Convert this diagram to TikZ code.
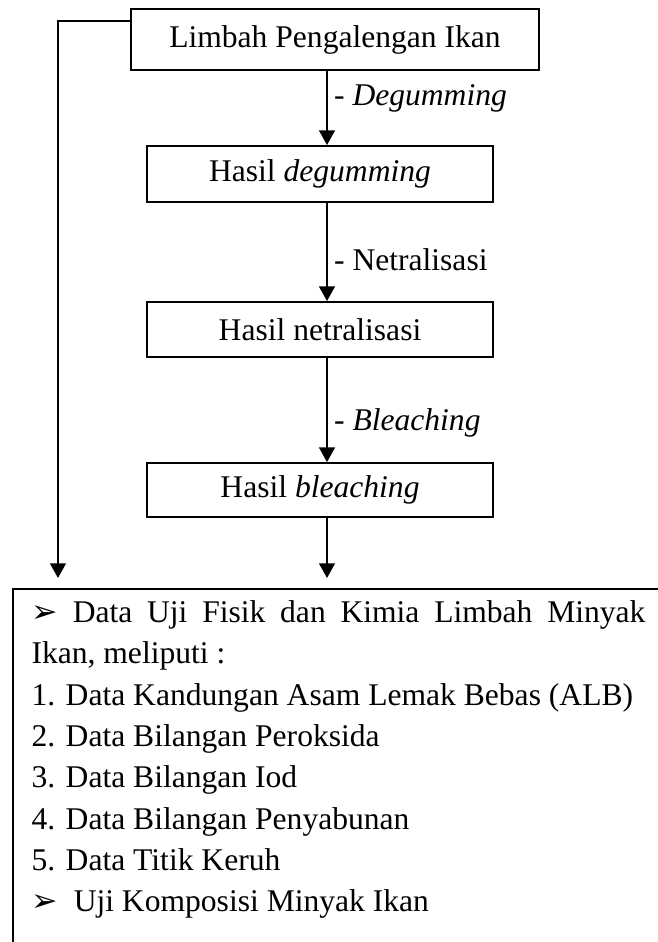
\documentclass[tikz,border=0pt]{standalone}
\usepackage{fontspec}
\setmainfont{Liberation Serif}
\newfontfamily\dingfont{DejaVu Sans}
\usetikzlibrary{arrows.meta,calc}

\tikzset{
  procbox/.style={draw, line width=0.7pt, inner sep=0pt, minimum width=131.5pt, font=\fontsize{12}{14}\selectfont},
  flow/.style={line width=0.8pt, -{Triangle[width=6pt,length=5.6pt]}},
  steplabel/.style={anchor=west, inner sep=0pt, xshift=2.3pt, font=\fontsize{12}{14}\selectfont}
}
\newcommand{\pointer}{{\dingfont\symbol{"27A2}}}

\begin{document}
\begin{tikzpicture}[x=0.38pt,y=0.38pt,yscale=-1,xscale=1]
      \useasboundingbox (0,0) rectangle (658,942);

      % Shapes: process boxes
      \node [procbox, minimum width=155pt, minimum height=23.2pt] (limbah) at (335,39.5) {Limbah Pengalengan Ikan};
      \node [procbox, minimum height=21.3pt] (degum) at (320,174) {Hasil \textit{degumming}};
      \node [procbox, minimum height=20.9pt] (netral) at (320,329.5) {Hasil netralisasi};
      \node [procbox, minimum height=20.5pt] (bleach) at (320,490) {Hasil \textit{bleaching}};

      % Coordinates: arrow column and arrow ends
      \coordinate (col) at (327,0);
      \coordinate (leftin) at (131,21);
      \coordinate (leftend) at (58,578);
      \coordinate (midend) at (327,578);

      %Straight Lines: main flow
      \draw [flow] (limbah.south -| col) -- (degum.north -| col)
            node [steplabel, pos=0.37] {- \textit{Degumming}};
      \draw [flow] (degum.south -| col) -- (netral.north -| col)
            node [steplabel, pos=0.58] {- Netralisasi};
      \draw [flow] (netral.south -| col) -- (bleach.north -| col)
            node [steplabel, pos=0.62] {- \textit{Bleaching}};
      \draw [flow] (bleach.south -| col) -- (midend);

      %Straight Lines: bypass on the left
      \draw [flow] (leftin) -| (leftend);

      %Shape: result box (open to the right and bottom)
      \draw [line width=0.7pt] (670,589) -- (13,589) -- (13,955);

      % Text Node
      \node [anchor=north west, inner sep=0pt, text width=233.3pt, align=justify,
             font=\fontsize{12}{15.7}\selectfont] (hasil) at (31,600) {%
        \pointer{} Data Uji Fisik dan Kimia Limbah Minyak\linebreak Ikan, meliputi :\\
        1. Data Kandungan Asam Lemak Bebas (ALB)\\
        2. Data Bilangan Peroksida\\
        3. Data Bilangan Iod\\
        4. Data Bilangan Penyabunan\\
        5. Data Titik Keruh\\
        \pointer{}\ \ Uji Komposisi Minyak Ikan};
\end{tikzpicture}
\end{document}
